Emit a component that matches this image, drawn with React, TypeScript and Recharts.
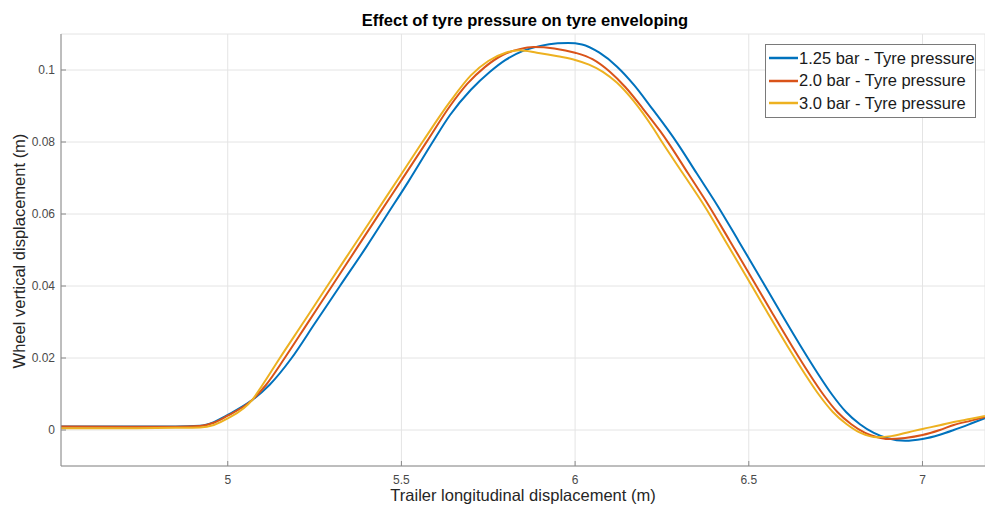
// Tyre enveloping chart: wheel vertical displacement vs trailer position
// Three tyre pressures, drawn with Recharts on number axes

import { LineChart, Line, XAxis, YAxis, CartesianGrid, Legend } from "recharts";

const xTicks = [5, 5.5, 6, 6.5, 7];
const yTicks = [0, 0.02, 0.04, 0.06, 0.08, 0.1];

const seriesNames = [
  "1.25 bar - Tyre pressure",
  "2.0 bar - Tyre pressure",
  "3.0 bar - Tyre pressure",
];
const seriesColors = ["#0072bd", "#d95319", "#edb120"];

// 1.25 bar
const x125 = [
  4.52, 4.7, 4.85, 4.92, 4.96, 5.0, 5.07, 5.12, 5.184, 5.25, 5.323, 5.4, 5.46,
  5.52, 5.59, 5.64, 5.7, 5.755, 5.8, 5.85, 5.9, 5.95, 5.98, 6.02, 6.07, 6.12,
  6.17, 6.22, 6.27, 6.294, 6.35, 6.41, 6.47, 6.53, 6.59, 6.65, 6.7, 6.74, 6.78,
  6.82, 6.86, 6.9, 6.95, 7.0, 7.05, 7.09, 7.14, 7.18,
];
const y125 = [
  0.001, 0.001, 0.001, 0.0012, 0.0022, 0.0042, 0.0083, 0.0125, 0.02, 0.0295,
  0.04, 0.051, 0.06, 0.069, 0.08, 0.0875, 0.0945, 0.0995, 0.1028, 0.1053,
  0.1067, 0.1074, 0.1075, 0.1071, 0.1048, 0.101, 0.0958, 0.0895, 0.083, 0.0797,
  0.0713, 0.0623, 0.0526, 0.0428, 0.0329, 0.0232, 0.0155, 0.0098, 0.005,
  0.0016, -0.0008, -0.0023, -0.003, -0.0025, -0.0013, 0.0, 0.0018, 0.0033,
];

// 2.0 bar
const x20 = [
  4.52, 4.7, 4.85, 4.92, 4.96, 5.0, 5.07, 5.11, 5.164, 5.23, 5.303, 5.37, 5.438,
  5.505, 5.573, 5.64, 5.69, 5.74, 5.79, 5.84, 5.88, 5.94, 6.0, 6.05, 6.1, 6.145,
  6.195, 6.245, 6.269, 6.325, 6.385, 6.445, 6.505, 6.565, 6.625, 6.675, 6.715,
  6.755, 6.795, 6.835, 6.87, 6.9, 6.95, 7.0, 7.05, 7.09, 7.14, 7.18,
];
const y20 = [
  0.001, 0.0009, 0.0009, 0.0011, 0.002, 0.004, 0.0083, 0.0125, 0.02, 0.0297,
  0.0404, 0.0503, 0.0603, 0.0701, 0.0801, 0.09, 0.0962, 0.1008, 0.1041, 0.1058,
  0.1064, 0.106, 0.1048, 0.103, 0.0995, 0.0952, 0.0893, 0.083, 0.0797, 0.0713,
  0.0623, 0.0526, 0.0428, 0.0329, 0.0232, 0.0155, 0.0098, 0.005, 0.0016,
  -0.0008, -0.002, -0.0025, -0.0022, -0.0014, 0.0, 0.0014, 0.0026, 0.0036,
];

// 3.0 bar
const x30 = [
  4.52, 4.7, 4.85, 4.92, 4.96, 5.0, 5.07, 5.1, 5.15, 5.22, 5.288, 5.36, 5.43,
  5.5, 5.562, 5.64, 5.7, 5.75, 5.8, 5.84, 5.89, 5.95, 6.0, 6.04, 6.08, 6.12,
  6.17, 6.225, 6.252, 6.31, 6.372, 6.432, 6.492, 6.552, 6.612, 6.662, 6.702,
  6.742, 6.782, 6.822, 6.87, 6.91, 6.96, 7.0, 7.05, 7.09, 7.14, 7.18,
];
const y30 = [
  0.0005, 0.0005, 0.0006, 0.0007, 0.0014, 0.0032, 0.0083, 0.0125, 0.02, 0.0302,
  0.0402, 0.0507, 0.0609, 0.0711, 0.0802, 0.0912, 0.0985, 0.1025, 0.1048,
  0.1055, 0.1048, 0.1038, 0.1028, 0.1015, 0.0995, 0.0965, 0.0912, 0.0838,
  0.0797, 0.0713, 0.0623, 0.0526, 0.0428, 0.0329, 0.0232, 0.0155, 0.0098,
  0.005, 0.0016, -0.0008, -0.002, -0.0017, -0.0006, 0.0003, 0.0013, 0.0022,
  0.0031, 0.0039,
];

const toPoints = (xs: number[], ys: number[]) =>
  xs.map((x, i) => ({ x, y: ys[i] }));

const series = [
  toPoints(x125, y125),
  toPoints(x20, y20),
  toPoints(x30, y30),
];

const font = '"Liberation Sans", Arial, Helvetica, sans-serif';

function LegendBox({ payload }: any) {
  return (
    <div
      style={{
        display: "inline-block",
        border: "1px solid #7a7a7a",
        background: "#fff",
        padding: "2px 0 2px 3px",
        fontFamily: font,
        fontSize: 16.5,
        color: "#1a1a1a",
      }}
    >
      {(payload || []).map((entry: any) => (
        <div
          key={entry.value}
          style={{ display: "flex", alignItems: "center", height: 22.5 }}
        >
          <svg width={29} height={4} style={{ marginRight: 1 }}>
            <line x1={0} y1={2} x2={29} y2={2} stroke={entry.color} strokeWidth={2.5} />
          </svg>
          <span style={{ whiteSpace: "nowrap" }}>{entry.value}</span>
        </div>
      ))}
    </div>
  );
}

export default function App() {
  return (
    <div
      style={{
        position: "absolute",
        left: 0,
        top: 0,
        width: 985,
        height: 506,
        background: "#fff",
        fontFamily: font,
      }}
    >
      <LineChart
        width={985}
        height={506}
        margin={{ top: 34, right: 0, bottom: 0, left: 0 }}
      >
        <CartesianGrid stroke="#e4e4e4" />
        <XAxis
          type="number"
          dataKey="x"
          domain={[4.52, 7.18]}
          ticks={xTicks}
          interval={0}
          allowDataOverflow
          height={40}
          axisLine={{ stroke: "#8a8a8a" }}
          tickLine={{ stroke: "#8a8a8a" }}
          tickSize={-5}
          tickMargin={14}
          tick={{ fill: "#4a4a4a", fontSize: 12, fontFamily: font }}
        />
        <YAxis
          type="number"
          dataKey="y"
          domain={[-0.01, 0.11]}
          ticks={yTicks}
          interval={0}
          allowDataOverflow
          width={61}
          axisLine={{ stroke: "#8a8a8a" }}
          tickLine={{ stroke: "#8a8a8a" }}
          tickSize={-5}
          tickMargin={11}
          tickFormatter={(v: number) => String(v)}
          tick={{ fill: "#4a4a4a", fontSize: 12, fontFamily: font }}
        />
        {series.map((data, i) => (
          <Line
            key={seriesNames[i]}
            data={data}
            dataKey="y"
            name={seriesNames[i]}
            type="monotone"
            stroke={seriesColors[i]}
            strokeWidth={2}
            dot={false}
            activeDot={false}
            isAnimationActive={false}
          />
        ))}
        <Legend
          layout="horizontal"
          align="center"
          verticalAlign="middle"
          wrapperStyle={{ left: 765, top: 44, width: 212, height: 74 }}
          content={<LegendBox />}
        />
      </LineChart>
      <div
        style={{
          position: "absolute",
          left: 0,
          width: 1050,
          top: 11,
          textAlign: "center",
          fontWeight: "bold",
          fontSize: 16.5,
          color: "#000",
        }}
      >
        Effect of tyre pressure on tyre enveloping
      </div>
      <div
        style={{
          position: "absolute",
          left: 0,
          width: 1046,
          top: 486,
          textAlign: "center",
          fontSize: 16.5,
          color: "#262626",
        }}
      >
        Trailer longitudinal displacement (m)
      </div>
      <div
        style={{
          position: "absolute",
          left: 19,
          top: 251,
          transform: "translate(-50%, -50%) rotate(-90deg)",
          whiteSpace: "nowrap",
          fontSize: 16.5,
          color: "#262626",
        }}
      >
        Wheel vertical displacement (m)
      </div>
    </div>
  );
}
